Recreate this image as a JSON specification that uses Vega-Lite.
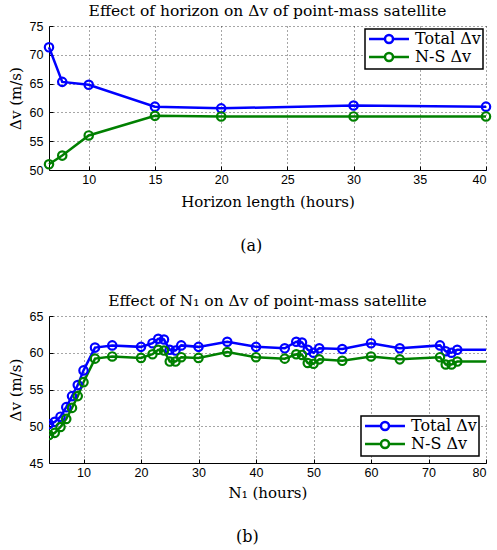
{
  "$schema": "https://vega.github.io/schema/vega-lite/v6.json",
  "padding": {"left": 8, "top": 3, "right": 0, "bottom": 0},
  "background": "white",
  "spacing": 39,
  "config": {
    "font": "DejaVu Serif",
    "view": {"stroke": null},
    "axis": {
      "labelFont": "Liberation Sans", "labelFontSize": 12.5, "labelColor": "black",
      "titleFont": "DejaVu Serif", "titleFontSize": 15, "titleFontWeight": "normal", "titleColor": "black",
      "domainColor": "black", "domainWidth": 1, "tickColor": "black", "tickSize": -4,
      "gridColor": "black", "gridDash": [1, 3], "gridOpacity": 0.7, "gridWidth": 1
    },
    "axisX": {"labelPadding": 7},
    "axisY": {"labelPadding": 10},
    "title": {"font": "DejaVu Serif", "fontSize": 15.5, "fontWeight": "normal", "color": "black"},
    "legend": {
      "strokeColor": "black", "fillColor": "white", "padding": 2, "strokeWidth": 1.5,
      "labelFont": "DejaVu Serif", "labelFontSize": 16, "labelColor": "black",
      "symbolType": "M-3.33,0L-0.67,0M0.67,0L3.33,0M-0.67,0A0.67,0.67,0,1,1,0.67,0A0.67,0.67,0,1,1,-0.67,0",
      "symbolSize": 144, "symbolStrokeWidth": 2.5, "symbolFillColor": "transparent",
      "symbolOffset": 14, "labelOffset": 18,
      "rowPadding": -3, "title": null
    }
  },
  "datasets": {
    "a": [
      {"h": 7, "series": "Total Δv", "dv": 71.3},
      {"h": 8, "series": "Total Δv", "dv": 65.3},
      {"h": 10, "series": "Total Δv", "dv": 64.8},
      {"h": 15, "series": "Total Δv", "dv": 61.0},
      {"h": 20, "series": "Total Δv", "dv": 60.7},
      {"h": 30, "series": "Total Δv", "dv": 61.2},
      {"h": 40, "series": "Total Δv", "dv": 61.0},
      {"h": 7, "series": "N-S Δv", "dv": 51.0},
      {"h": 8, "series": "N-S Δv", "dv": 52.5},
      {"h": 10, "series": "N-S Δv", "dv": 56.0},
      {"h": 15, "series": "N-S Δv", "dv": 59.4},
      {"h": 20, "series": "N-S Δv", "dv": 59.3},
      {"h": 30, "series": "N-S Δv", "dv": 59.3},
      {"h": 40, "series": "N-S Δv", "dv": 59.3}
    ],
    "b": [
      {"n": 4, "series": "Total Δv", "dv": 50.3},
      {"n": 5, "series": "Total Δv", "dv": 50.6},
      {"n": 6, "series": "Total Δv", "dv": 51.3},
      {"n": 7, "series": "Total Δv", "dv": 52.6},
      {"n": 8, "series": "Total Δv", "dv": 54.1},
      {"n": 9, "series": "Total Δv", "dv": 55.6},
      {"n": 10, "series": "Total Δv", "dv": 57.6},
      {"n": 12, "series": "Total Δv", "dv": 60.7},
      {"n": 15, "series": "Total Δv", "dv": 61.0},
      {"n": 20, "series": "Total Δv", "dv": 60.8},
      {"n": 22, "series": "Total Δv", "dv": 61.3},
      {"n": 23, "series": "Total Δv", "dv": 61.9},
      {"n": 24, "series": "Total Δv", "dv": 61.8},
      {"n": 25, "series": "Total Δv", "dv": 60.4},
      {"n": 26, "series": "Total Δv", "dv": 60.3},
      {"n": 27, "series": "Total Δv", "dv": 61.0},
      {"n": 30, "series": "Total Δv", "dv": 60.8},
      {"n": 35, "series": "Total Δv", "dv": 61.5},
      {"n": 40, "series": "Total Δv", "dv": 60.8},
      {"n": 45, "series": "Total Δv", "dv": 60.6},
      {"n": 47, "series": "Total Δv", "dv": 61.5},
      {"n": 48, "series": "Total Δv", "dv": 61.4},
      {"n": 49, "series": "Total Δv", "dv": 60.4},
      {"n": 50, "series": "Total Δv", "dv": 60.0},
      {"n": 51, "series": "Total Δv", "dv": 60.6},
      {"n": 55, "series": "Total Δv", "dv": 60.5},
      {"n": 60, "series": "Total Δv", "dv": 61.3},
      {"n": 65, "series": "Total Δv", "dv": 60.6},
      {"n": 72, "series": "Total Δv", "dv": 61.0},
      {"n": 73, "series": "Total Δv", "dv": 60.2},
      {"n": 74, "series": "Total Δv", "dv": 60.0},
      {"n": 75, "series": "Total Δv", "dv": 60.4},
      {"n": 96, "series": "Total Δv", "dv": 60.4},
      {"n": 4, "series": "N-S Δv", "dv": 48.8},
      {"n": 5, "series": "N-S Δv", "dv": 49.1},
      {"n": 6, "series": "N-S Δv", "dv": 49.9},
      {"n": 7, "series": "N-S Δv", "dv": 51.0},
      {"n": 8, "series": "N-S Δv", "dv": 52.5},
      {"n": 9, "series": "N-S Δv", "dv": 54.1},
      {"n": 10, "series": "N-S Δv", "dv": 56.0},
      {"n": 12, "series": "N-S Δv", "dv": 59.2},
      {"n": 15, "series": "N-S Δv", "dv": 59.5},
      {"n": 20, "series": "N-S Δv", "dv": 59.3},
      {"n": 22, "series": "N-S Δv", "dv": 59.8},
      {"n": 23, "series": "N-S Δv", "dv": 60.4},
      {"n": 24, "series": "N-S Δv", "dv": 60.3},
      {"n": 25, "series": "N-S Δv", "dv": 58.8},
      {"n": 26, "series": "N-S Δv", "dv": 58.8},
      {"n": 27, "series": "N-S Δv", "dv": 59.4},
      {"n": 30, "series": "N-S Δv", "dv": 59.3},
      {"n": 35, "series": "N-S Δv", "dv": 60.1},
      {"n": 40, "series": "N-S Δv", "dv": 59.4},
      {"n": 45, "series": "N-S Δv", "dv": 59.2},
      {"n": 47, "series": "N-S Δv", "dv": 59.8},
      {"n": 48, "series": "N-S Δv", "dv": 59.7},
      {"n": 49, "series": "N-S Δv", "dv": 58.6},
      {"n": 50, "series": "N-S Δv", "dv": 58.5},
      {"n": 51, "series": "N-S Δv", "dv": 59.1},
      {"n": 55, "series": "N-S Δv", "dv": 58.9},
      {"n": 60, "series": "N-S Δv", "dv": 59.5},
      {"n": 65, "series": "N-S Δv", "dv": 59.1},
      {"n": 72, "series": "N-S Δv", "dv": 59.4},
      {"n": 73, "series": "N-S Δv", "dv": 58.4},
      {"n": 74, "series": "N-S Δv", "dv": 58.4},
      {"n": 75, "series": "N-S Δv", "dv": 58.8},
      {"n": 96, "series": "N-S Δv", "dv": 58.8}
    ]
  },
  "resolve": {"scale": {"color": "independent"}, "legend": {"color": "independent"}},
  "vconcat": [
    {
      "title": {"text": "(a)", "orient": "bottom", "anchor": "middle", "fontSize": 16, "offset": 28},
      "resolve": {"scale": {"color": "independent"}, "legend": {"color": "independent"}},
      "vconcat": [
        {
          "title": {"text": "Effect of horizon on Δv of point-mass satellite", "offset": 1},
          "width": 437, "height": 144,
          "data": {"name": "a"},
          "encoding": {
            "x": {"field": "h", "type": "quantitative",
                  "scale": {"domain": [7, 40], "nice": false, "zero": false},
                  "axis": {"values": [10, 15, 20, 25, 30, 35, 40], "title": "Horizon length (hours)", "titlePadding": 9}},
            "y": {"field": "dv", "type": "quantitative",
                  "scale": {"domain": [50, 75], "nice": false, "zero": false},
                  "axis": {"values": [50, 55, 60, 65, 70, 75], "title": "Δv (m/s)", "titlePadding": 6}},
            "color": {"field": "series", "type": "nominal",
                      "scale": {"domain": ["Total Δv", "N-S Δv"], "range": ["#0000ff", "#008000"]},
                      "legend": {"orient": "top-right", "offset": 3}}
          },
          "layer": [
            {"mark": {"type": "line", "strokeWidth": 2.5}},
            {"mark": {"type": "point", "filled": false, "size": 70, "strokeWidth": 2.2, "opacity": 1}}
          ]
        }
      ]
    },
    {
      "title": {"text": "(b)", "orient": "bottom", "anchor": "middle", "fontSize": 16, "offset": 28},
      "resolve": {"scale": {"color": "independent"}, "legend": {"color": "independent"}},
      "vconcat": [
        {
          "title": {"text": "Effect of N₁ on Δv of point-mass satellite", "offset": 1},
          "width": 437, "height": 147,
          "data": {"name": "b"},
          "encoding": {
            "x": {"field": "n", "type": "quantitative",
                  "scale": {"domain": [4, 80], "nice": false, "zero": false},
                  "axis": {"values": [10, 20, 30, 40, 50, 60, 70, 80], "title": "N₁ (hours)", "titlePadding": 7}},
            "y": {"field": "dv", "type": "quantitative",
                  "scale": {"domain": [45, 65], "nice": false, "zero": false},
                  "axis": {"values": [45, 50, 55, 60, 65], "title": "Δv (m/s)", "titlePadding": 6}},
            "color": {"field": "series", "type": "nominal",
                      "scale": {"domain": ["Total Δv", "N-S Δv"], "range": ["#0000ff", "#008000"]},
                      "legend": {"orient": "bottom-right", "offset": 7}}
          },
          "layer": [
            {"mark": {"type": "line", "strokeWidth": 2.5, "clip": true}},
            {"mark": {"type": "point", "filled": false, "size": 70, "strokeWidth": 2.2, "opacity": 1, "clip": true}}
          ]
        }
      ]
    }
  ]
}
